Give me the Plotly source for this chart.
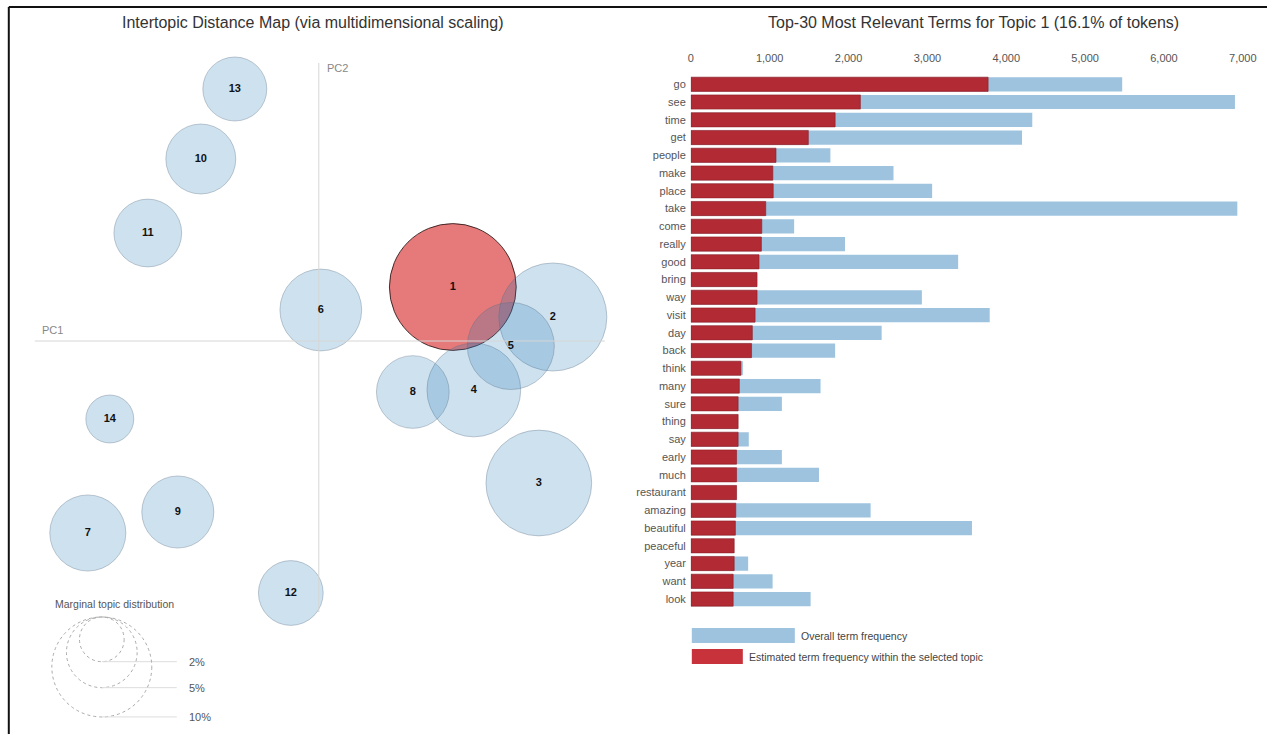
import numpy as np
import plotly.graph_objects as go

# ---- Topic map data -------------------------------------------------------
topic_ids = list(range(1, 15))
pc1 = [0.67, 1.17, 1.10, 0.775, 0.96, 0.01, -1.155, 0.47, -0.705, -0.59, -0.855, -0.14, -0.42, -1.045]
pc2 = [0.27, 0.12, -0.71, -0.245, -0.025, 0.155, -0.96, -0.255, -0.855, 0.91, 0.54, -1.26, 1.26, -0.39]
# marginal topic distribution, % of tokens
marginal = [16.1, 11.7, 11.2, 8.8, 7.6, 6.7, 5.8, 5.3, 5.2, 4.9, 4.6, 4.2, 4.1, 2.3]
selected_topic = 1
legend_pcts = [2, 5, 10]

# ---- Term bar data (topic 1) ----------------------------------------------
terms = ["go", "see", "time", "get", "people", "make", "place", "take", "come", "really",
         "good", "bring", "way", "visit", "day", "back", "think", "many", "sure", "thing",
         "say", "early", "much", "restaurant", "amazing", "beautiful", "peaceful", "year",
         "want", "look"]
overall_freq = [5470, 6900, 4330, 4200, 1770, 2570, 3060, 6930, 1310, 1955,
                3390, 840, 2930, 3790, 2420, 1830, 660, 1645, 1155, 600,
                735, 1155, 1625, 580, 2280, 3565, 550, 727, 1037, 1519]
topic_freq = [3770, 2150, 1830, 1490, 1080, 1040, 1045, 950, 900, 895,
              865, 840, 840, 815, 780, 770, 635, 615, 600, 600,
              600, 580, 580, 580, 570, 565, 550, 550, 537, 537]
freq_ticks = [0, 1000, 2000, 3000, 4000, 5000, 6000, 7000]

FONT = "Liberation Sans, Arial, sans-serif"
H = 734
FIG_W = 1281                 # figure width
X_OFF, X_SCALE = 3.2, 0.9867  # horizontal offset / scale of the displayed canvas
RADIUS_UNIT = 0.079          # circle radius per sqrt(% of tokens), in PC units

BLUE_FILL = "rgba(31,119,180,0.22)"
BLUE_EDGE = "rgba(90,110,130,0.35)"
RED_FILL = "rgba(214,39,40,0.62)"
RED_EDGE = "rgba(40,20,20,0.85)"


def px_x(v):
    """Screen x position -> paper fraction."""
    return (v - X_OFF) / (X_SCALE * FIG_W)


def px_y(v):
    """Screen y position -> paper fraction."""
    return 1 - v / H


# left panel: 200 screen px per PC unit, origin at (319, 341)
ORIGIN_X, ORIGIN_Y, PX_PER_UNIT = 319, 341, 200
map_x0, map_x1 = X_OFF, 636
map_range_x = [(map_x0 - ORIGIN_X) / PX_PER_UNIT, (map_x1 - ORIGIN_X) / PX_PER_UNIT]
map_range_y = [(ORIGIN_Y - H) / PX_PER_UNIT, ORIGIN_Y / PX_PER_UNIT]

fig = go.Figure()
shapes = []
annotations = []

# topic circles
for t, x, y, m in zip(topic_ids, pc1, pc2, marginal):
    r = RADIUS_UNIT * np.sqrt(m)
    sel = (t == selected_topic)
    shapes.append(dict(type="circle", xref="x", yref="y", layer="below",
                       x0=x - r, x1=x + r, y0=y - r, y1=y + r,
                       fillcolor=RED_FILL if sel else BLUE_FILL,
                       line=dict(color=RED_EDGE if sel else BLUE_EDGE, width=1)))

# principal component axes
shapes.append(dict(type="line", xref="x", yref="y", layer="below",
                   x0=-1.42, x1=1.43, y0=0, y1=0, line=dict(color="#d6d6d6", width=1)))
shapes.append(dict(type="line", xref="x", yref="y", layer="below",
                   x0=0, x1=0, y0=1.39, y1=-1.355, line=dict(color="#d6d6d6", width=1)))

fig.add_trace(go.Scatter(
    x=pc1, y=pc2, mode="text", text=[f"<b>{t}</b>" for t in topic_ids],
    textfont=dict(family=FONT, size=11, color="#111"),
    xaxis="x", yaxis="y", showlegend=False, hoverinfo="skip"))

annotations += [
    dict(x=-1.395, y=0.055, xref="x", yref="y", text="PC1", showarrow=False,
         xanchor="left", yanchor="middle", font=dict(family=FONT, size=11, color="#888")),
    dict(x=0.03, y=1.365, xref="x", yref="y", text="PC2", showarrow=False,
         xanchor="left", yanchor="middle", font=dict(family=FONT, size=11, color="#888")),
]

# marginal topic distribution key
key_cx, key_top, key_lx = -1.085, -1.38, -0.71
for p in legend_pcts:
    r = RADIUS_UNIT * np.sqrt(p)
    shapes.append(dict(type="circle", xref="x", yref="y", layer="below",
                       x0=key_cx - r, x1=key_cx + r, y0=key_top - 2 * r, y1=key_top,
                       line=dict(color="#aaa", width=1, dash="dot")))
    shapes.append(dict(type="line", xref="x", yref="y", layer="below",
                       x0=key_cx, x1=key_lx, y0=key_top - 2 * r, y1=key_top - 2 * r,
                       line=dict(color="#ddd", width=1)))
    annotations.append(dict(x=key_lx + 0.05, y=key_top - 2 * r, xref="x", yref="y",
                            text=f"{p}%", showarrow=False, xanchor="left", yanchor="middle",
                            font=dict(family=FONT, size=11, color="#555")))
annotations.append(dict(x=-1.33, y=-1.315, xref="x", yref="y",
                        text="Marginal topic distribution", showarrow=False,
                        xanchor="left", yanchor="middle",
                        font=dict(family=FONT, size=10.5, color="#555")))

# ---- term bars ------------------------------------------------------------
fig.add_trace(go.Bar(
    x=overall_freq, y=terms, orientation="h", width=0.8,
    marker=dict(color="#9dc3de", line=dict(width=0)),
    xaxis="x2", yaxis="y2", name="Overall term frequency", showlegend=False))
fig.add_trace(go.Bar(
    x=topic_freq, y=terms, orientation="h", width=0.8,
    marker=dict(color="#b22a33", line=dict(color="#8e1e26", width=0.6)),
    xaxis="x2", yaxis="y2", name="Estimated term frequency within the selected topic",
    showlegend=False))

# bar key
shapes += [
    dict(type="rect", xref="paper", yref="paper", x0=px_x(692), x1=px_x(795),
         y0=px_y(643), y1=px_y(628), fillcolor="#9dc3de", line=dict(width=0)),
    dict(type="rect", xref="paper", yref="paper", x0=px_x(692), x1=px_x(743),
         y0=px_y(664), y1=px_y(649), fillcolor="#c8323a", line=dict(width=0)),
]
annotations += [
    dict(x=px_x(799), y=px_y(635.5), xref="paper", yref="paper", showarrow=False,
         xanchor="left", yanchor="middle", text="Overall term frequency",
         font=dict(family=FONT, size=10.5, color="#444")),
    dict(x=px_x(747), y=px_y(656.5), xref="paper", yref="paper", showarrow=False,
         xanchor="left", yanchor="middle",
         text="Estimated term frequency within the selected topic",
         font=dict(family=FONT, size=10.5, color="#444")),
]

# panel titles
annotations += [
    dict(x=px_x(313), y=px_y(22), xref="paper", yref="paper", showarrow=False,
         xanchor="center", yanchor="middle",
         text="Intertopic Distance Map (via multidimensional scaling)",
         font=dict(family=FONT, size=16, color="#333")),
    dict(x=px_x(974), y=px_y(22), xref="paper", yref="paper", showarrow=False,
         xanchor="center", yanchor="middle",
         text="Top-30 Most Relevant Terms for Topic 1 (16.1% of tokens)",
         font=dict(family=FONT, size=16, color="#333")),
]

# frame
shapes += [
    dict(type="line", xref="paper", yref="paper", x0=px_x(9), x1=px_x(9),
         y0=0, y1=px_y(7), line=dict(color="#111", width=2)),
    dict(type="line", xref="paper", yref="paper", x0=px_x(9), x1=1,
         y0=px_y(7), y1=px_y(7), line=dict(color="#111", width=2)),
]

fig.update_layout(
    width=FIG_W, height=H, autosize=False, margin=dict(l=0, r=0, t=0, b=0),
    paper_bgcolor="white", plot_bgcolor="white",
    barmode="overlay", bargap=0.2,
    font=dict(family=FONT, size=11, color="#555"),
    shapes=shapes, annotations=annotations,
    xaxis=dict(domain=[max(0, px_x(map_x0)), px_x(map_x1)], range=map_range_x,
               visible=False, fixedrange=True),
    yaxis=dict(domain=[0, 1], range=map_range_y, visible=False, fixedrange=True),
    xaxis2=dict(domain=[px_x(691), px_x(1243)], range=[0, 7000], anchor="y2",
                side="top", tickvals=freq_ticks, tickformat=",",
                showgrid=False, zeroline=False, showline=False,
                ticks="outside", ticklen=8, tickcolor="rgba(0,0,0,0)",
                tickfont=dict(family=FONT, size=11, color="#555")),
    yaxis2=dict(domain=[px_y(607.9), px_y(75.4)], anchor="x2", type="category",
                categoryorder="array", categoryarray=terms, range=[29.5, -0.5],
                showgrid=False, zeroline=False, showline=False, ticks="",
                ticklabelstandoff=4,
                tickfont=dict(family=FONT, size=11, color="#555")),
)

fig.write_html("out.html", config={"responsive": False})
